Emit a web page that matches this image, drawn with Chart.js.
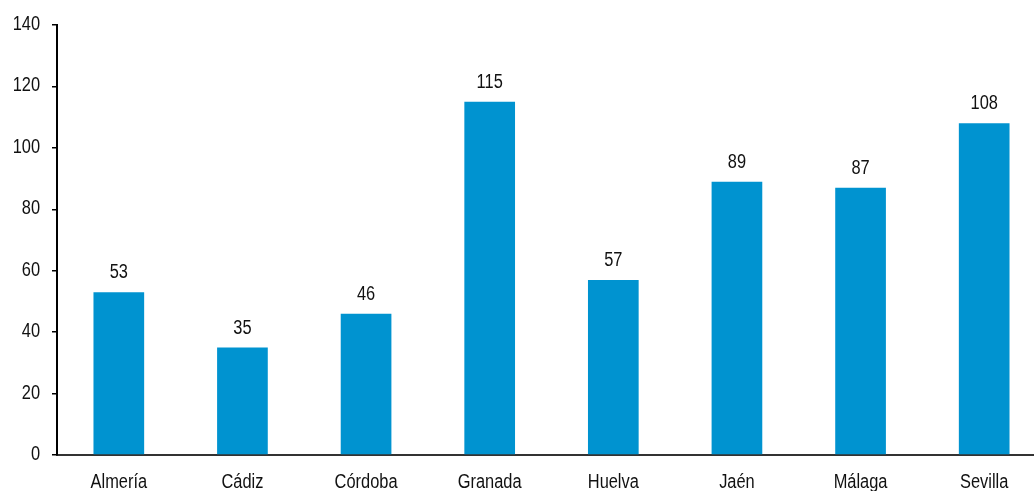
<!DOCTYPE html>
<html>
<head>
<meta charset="utf-8">
<script src="https://cdn.jsdelivr.net/npm/chart.js@4"></script>
<style>
  html, body { margin: 0; padding: 0; background: #fff; overflow: hidden; }
  #wrap { width: 1046px; height: 491px; }
</style>
</head>
<body>
<div id="wrap"><canvas id="chart"></canvas></div>
<script>
const provincias = ['Almería', 'Cádiz', 'Córdoba', 'Granada', 'Huelva', 'Jaén', 'Málaga', 'Sevilla'];
const valores = [53, 35, 46, 115, 57, 89, 87, 108];
const yTicks = [0, 20, 40, 60, 80, 100, 120, 140];

const FONT = "'Liberation Sans Narrow', 'Arial Narrow', 'Liberation Sans', Arial, sans-serif";
const TEXT_COLOR = '#111';
const NARROW = 0.82; // squeeze text horizontally, no narrow font available

function narrowText(ctx, txt, x, y, align) {
  ctx.save();
  ctx.translate(x, y);
  ctx.scale(NARROW, 1);
  ctx.textAlign = align;
  ctx.fillText(txt, 0, 0);
  ctx.restore();
}

// all text (ticks + values) drawn here so it can be condensed
const narrowLabels = {
  id: 'narrowLabels',
  afterDraw(chart) {
    const ctx = chart.ctx;
    const xs = chart.scales.x;
    const ys = chart.scales.y;
    ctx.save();
    ctx.font = '20px ' + FONT;
    ctx.fillStyle = TEXT_COLOR;
    ctx.textBaseline = 'alphabetic';

    yTicks.forEach(v => {
      narrowText(ctx, String(v), ys.right - 17, ys.getPixelForValue(v) + 5, 'right');
    });

    provincias.forEach((p, i) => {
      narrowText(ctx, p, xs.getPixelForValue(i), xs.top + 33, 'center');
    });

    const meta = chart.getDatasetMeta(0);
    meta.data.forEach((bar, i) => {
      narrowText(ctx, String(valores[i]), bar.x, bar.y - 14, 'center');
    });
    ctx.restore();
  }
};

new Chart(document.getElementById('chart'), {
  type: 'bar',
  data: {
    labels: provincias,
    datasets: [{
      data: valores,
      backgroundColor: '#0093D0',
      barPercentage: 0.41,
      categoryPercentage: 1
    }]
  },
  options: {
    responsive: true,
    maintainAspectRatio: false,
    animation: false,
    layout: { padding: { top: 25, right: 0, left: 0, bottom: 0 } },
    plugins: {
      legend: { display: false },
      tooltip: { enabled: false }
    },
    scales: {
      x: {
        grid: { display: false, drawTicks: false },
        border: { display: true, color: '#333', width: 2 },
        ticks: { display: false },
        afterFit: s => { s.height = 36; }
      },
      y: {
        min: 0,
        max: 140,
        afterBuildTicks: s => { s.ticks = yTicks.map(v => ({ value: v })); },
        grid: { drawOnChartArea: false, drawTicks: true, tickLength: 5, color: '#000', lineWidth: 1.5 },
        border: { display: true, color: '#000', width: 2 },
        ticks: { display: false },
        afterFit: s => { s.width = 57; }
      }
    }
  },
  plugins: [narrowLabels]
});
</script>
</body>
</html>
